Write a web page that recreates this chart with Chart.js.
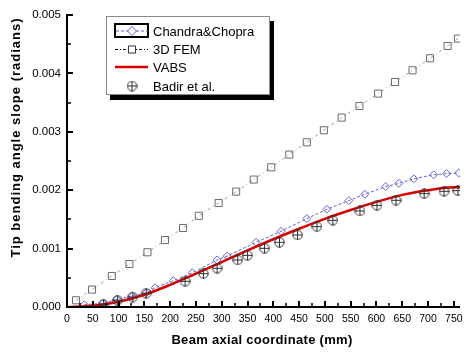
<!DOCTYPE html>
<html>
<head>
<meta charset="utf-8">
<script src="https://cdn.jsdelivr.net/npm/chart.js@4.4.1/dist/chart.umd.min.js"></script>
<style>
  html, body { margin: 0; padding: 0; background: #fff; }
</style>
</head>
<body>
<canvas id="chart" width="473" height="354"></canvas>
<script>
// values (x in mm, y in radians)
const chandraX = [33.5, 70, 97, 126.5, 153.5, 171, 206, 243, 291, 310.5, 366.5, 415, 465, 504, 546.5, 577.5, 618, 643.5, 672.5, 711, 736, 759.5];
const chandraY = [0.000038, 0.000063, 0.000132, 0.000192, 0.00024, 0.000329, 0.000449, 0.000586, 0.000805, 0.000872, 0.001108, 0.001296, 0.001514, 0.001673, 0.001822, 0.00193, 0.002062, 0.002118, 0.002195, 0.002264, 0.002284, 0.002295];

const femX = [17.5, 48.5, 87, 121, 156, 190, 225, 255.5, 294, 328, 362, 396, 431, 465, 498, 532.5, 567, 603, 636, 670, 704, 738, 758];
const femY = [0.000115, 0.000298, 0.000531, 0.000736, 0.000937, 0.001147, 0.001353, 0.001562, 0.001781, 0.001976, 0.002182, 0.002392, 0.00261, 0.00282, 0.003026, 0.003243, 0.003442, 0.003654, 0.003853, 0.004053, 0.004259, 0.004469, 0.004596];

const vabsX = [0, 50, 100, 150, 200, 250, 300, 350, 400, 450, 500, 550, 600, 650, 700, 750, 762];
const vabsY = [0, 0.00002, 0.00009, 0.00021, 0.00038, 0.00057, 0.00077, 0.00097, 0.00116, 0.00134, 0.00151, 0.00166, 0.0018, 0.00192, 0.002, 0.00205, 0.00205];

const badirX = [71, 98, 127.5, 153.5, 229, 264.5, 291, 331, 350, 383, 412, 447, 484.5, 515.5, 568, 601, 638, 692.5, 731, 758];
const badirY = [0.000046, 0.000115, 0.000171, 0.000235, 0.00044, 0.000572, 0.000663, 0.000805, 0.000885, 0.001005, 0.001108, 0.001233, 0.001377, 0.001485, 0.001644, 0.001741, 0.001827, 0.001942, 0.001981, 0.001993];

const seriesNames = ['Chandra&Chopra', '3D FEM', 'VABS', 'Badir et al.'];
const xTitle = 'Beam axial coordinate (mm)';
const yTitle = 'Tip bending angle slope (radians)';

const xMin = 0, xMax = 762, xStep = 25, xLabelStep = 50;
const yMin = 0, yMax = 0.005, yStep = 0.0005;

const FONT = "'Liberation Sans', Arial, sans-serif";
const BLUE = '#6262d2';
const GREY = '#6a6a6a';
const RED = '#d80000';
const DARK = '#303030';

function pts(xs, ys) {
    return xs.map((x, i) => ({ x: x, y: ys[i] }));
}

// circle with a plus inside, used for the Badir et al. points
function crossCircle(size, color) {
    const c = document.createElement('canvas');
    c.width = size;
    c.height = size;
    const g = c.getContext('2d');
    const m = size / 2;
    g.strokeStyle = color;
    g.lineWidth = 1;
    g.beginPath();
    g.arc(m, m, m - 0.8, 0, Math.PI * 2);
    g.stroke();
    g.beginPath();
    g.moveTo(m, 0.5); g.lineTo(m, size - 0.5);
    g.moveTo(0.5, m); g.lineTo(size - 0.5, m);
    g.stroke();
    return c;
}
const badirMark = crossCircle(11, DARK);

// inward ticks, axis lines, axis titles and the boxed legend
const decor = {
    id: 'decor',
    afterDatasetsDraw(chart) {
        const { ctx, chartArea: a, scales: { x, y } } = chart;
        ctx.save();
        ctx.strokeStyle = '#000';
        ctx.lineCap = 'butt';

        x.ticks.forEach(t => {
            const px = Math.round(x.getPixelForValue(t.value));
            const major = Math.round(t.value) % xLabelStep === 0;
            ctx.lineWidth = major ? 2 : 1.5;
            ctx.beginPath();
            ctx.moveTo(px, a.bottom);
            ctx.lineTo(px, a.bottom - (major ? 6 : 4));
            ctx.stroke();
        });
        y.ticks.forEach((t, i) => {
            const py = Math.round(y.getPixelForValue(t.value));
            const major = i % 2 === 0;
            ctx.lineWidth = major ? 2 : 1.5;
            ctx.beginPath();
            ctx.moveTo(a.left, py);
            ctx.lineTo(a.left + (major ? 6 : 4), py);
            ctx.stroke();
        });

        ctx.lineWidth = 2;
        ctx.beginPath();
        ctx.moveTo(a.left, a.top - 1);
        ctx.lineTo(a.left, a.bottom);
        ctx.lineTo(a.right, a.bottom);
        ctx.stroke();

        // axis titles
        ctx.fillStyle = '#000';
        ctx.font = 'bold 13px ' + FONT;
        ctx.textAlign = 'center';
        ctx.textBaseline = 'middle';
        ctx.letterSpacing = '0.3px';
        ctx.fillText(xTitle, 262, 340);
        ctx.save();
        ctx.translate(16.5, 137.5);
        ctx.rotate(-Math.PI / 2);
        ctx.letterSpacing = '1px';
        ctx.fillText(yTitle, 0, 0);
        ctx.restore();
        ctx.letterSpacing = '0px';

        // legend box with drop shadow
        const L = 106, T = 16, W = 163, H = 78;
        ctx.fillStyle = '#000';
        ctx.fillRect(L + 4, T + 5, W + 1, H + 1);
        ctx.fillStyle = '#fff';
        ctx.fillRect(L, T, W, H);
        ctx.strokeStyle = '#8a8a8a';
        ctx.lineWidth = 1;
        ctx.strokeRect(L + 0.5, T + 0.5, W, H);

        const rows = [31, 49.5, 67, 86];
        const sx0 = 116, sx1 = 148, sxm = 132;

        // Chandra&Chopra sample (selected frame around it)
        ctx.strokeStyle = '#000';
        ctx.lineWidth = 2;
        ctx.strokeRect(115, 24, 33, 13);
        ctx.strokeStyle = BLUE;
        ctx.lineWidth = 1;
        ctx.setLineDash([3, 2]);
        ctx.beginPath(); ctx.moveTo(sx0, rows[0]); ctx.lineTo(sx1, rows[0]); ctx.stroke();
        ctx.setLineDash([]);
        ctx.fillStyle = '#fff';
        Chart.helpers.drawPoint(ctx, { pointStyle: 'rectRot', radius: 4.5, borderWidth: 1, rotation: 0 }, sxm, rows[0]);

        // 3D FEM sample
        ctx.strokeStyle = '#000';
        ctx.setLineDash([3, 2, 1, 2]);
        ctx.beginPath(); ctx.moveTo(sx0 - 1, rows[1]); ctx.lineTo(sx1, rows[1]); ctx.stroke();
        ctx.setLineDash([]);
        ctx.strokeStyle = DARK;
        Chart.helpers.drawPoint(ctx, { pointStyle: 'rect', radius: 5, borderWidth: 1, rotation: 0 }, sxm, rows[1]);

        // VABS sample
        ctx.strokeStyle = RED;
        ctx.lineWidth = 2.5;
        ctx.beginPath(); ctx.moveTo(sx0 - 1, rows[2]); ctx.lineTo(sx1, rows[2]); ctx.stroke();

        // Badir sample
        ctx.drawImage(badirMark, sxm - 5.5, rows[3] - 5.5);

        ctx.fillStyle = '#000';
        ctx.font = '13px ' + FONT;
        ctx.textAlign = 'left';
        ctx.textBaseline = 'middle';
        seriesNames.forEach((n, i) => ctx.fillText(n, 153, rows[i] + 1));

        ctx.restore();
    }
};

new Chart(document.getElementById('chart').getContext('2d'), {
    type: 'scatter',
    data: {
        datasets: [
            {
                label: seriesNames[3],
                data: pts(badirX, badirY),
                showLine: false,
                pointStyle: badirMark,
                order: 0
            },
            {
                label: seriesNames[2],
                data: pts(vabsX, vabsY),
                showLine: true,
                borderColor: RED,
                borderWidth: 2.5,
                tension: 0.4,
                cubicInterpolationMode: 'monotone',
                pointRadius: 0,
                order: 1
            },
            {
                label: seriesNames[0],
                data: pts(chandraX, chandraY),
                showLine: true,
                borderColor: BLUE,
                borderWidth: 1,
                borderDash: [3, 2],
                pointStyle: 'rectRot',
                pointRadius: 4,
                pointBorderColor: BLUE,
                pointBackgroundColor: 'rgba(255,255,255,0)',
                pointBorderWidth: 1,
                order: 2
            },
            {
                label: seriesNames[1],
                data: pts(femX, femY),
                showLine: true,
                borderColor: '#9a9a9a',
                borderWidth: 1,
                borderDash: [3, 3, 1, 3],
                pointStyle: 'rect',
                pointRadius: 5,
                pointBorderColor: GREY,
                pointBackgroundColor: 'rgba(255,255,255,0)',
                pointBorderWidth: 1,
                order: 3
            }
        ]
    },
    options: {
        responsive: false,
        animation: false,
        layout: { padding: { top: 15, right: 13, left: 0, bottom: 0 } },
        plugins: {
            legend: { display: false },
            tooltip: { enabled: false }
        },
        scales: {
            x: {
                type: 'linear',
                min: xMin,
                max: xMax,
                grid: { display: false, drawTicks: false },
                border: { display: false },
                afterBuildTicks: s => {
                    const t = [];
                    for (let v = xMin; v <= xMax; v += xStep) t.push({ value: v });
                    s.ticks = t;
                },
                afterFit: s => { s.height = 47; },
                ticks: {
                    autoSkip: false,
                    maxRotation: 0,
                    padding: 6,
                    color: '#000',
                    font: { family: FONT, size: 10.5 },
                    callback: v => (Math.round(v) % xLabelStep === 0 ? String(v) : '')
                }
            },
            y: {
                type: 'linear',
                min: yMin,
                max: yMax,
                grid: { display: false, drawTicks: false },
                border: { display: false },
                afterBuildTicks: s => {
                    const t = [];
                    for (let i = 0; i <= Math.round((yMax - yMin) / yStep); i++) t.push({ value: yMin + i * yStep });
                    s.ticks = t;
                },
                afterFit: s => { s.width = 67; },
                ticks: {
                    autoSkip: false,
                    padding: 6,
                    color: '#000',
                    font: { family: FONT, size: 11.5 },
                    callback: function (v, i) { return i % 2 === 0 ? v.toFixed(3) : ''; }
                }
            }
        }
    },
    plugins: [decor]
});
</script>
</body>
</html>
